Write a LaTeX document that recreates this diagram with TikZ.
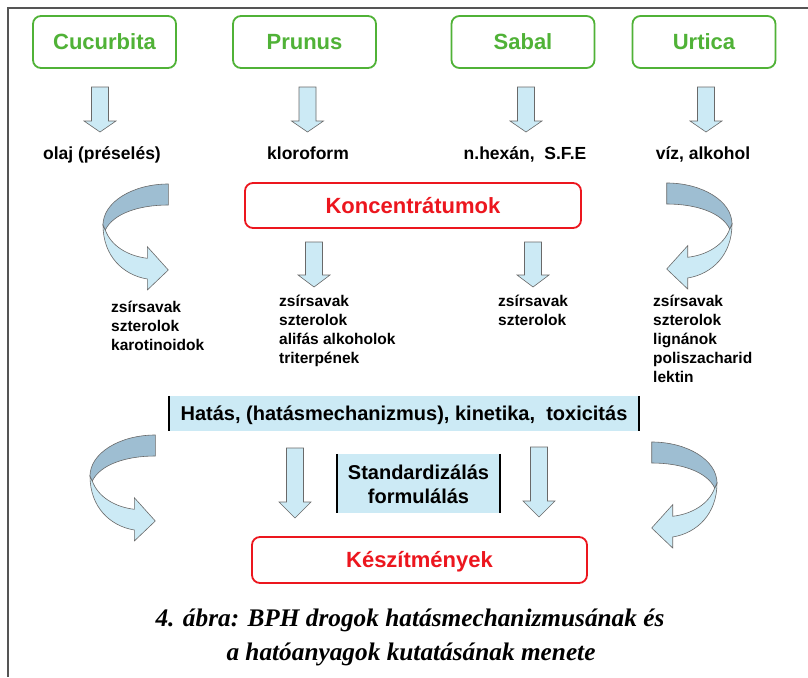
\documentclass[tikz,border=0pt]{standalone}
\usepackage{fontspec}
\setmainfont{Liberation Sans}
\newfontfamily\capfont{Liberation Serif}
\usetikzlibrary{calc}
\definecolor{grn}{RGB}{80,178,55}
\definecolor{redc}{RGB}{236,22,30}
\definecolor{lblue}{RGB}{204,234,245}
\definecolor{dblue}{RGB}{158,190,210}
\definecolor{edgec}{RGB}{105,105,105}
\definecolor{framec}{RGB}{85,85,85}
\tikzset{
  gbox/.style={draw=grn, line width=1.8pt, rounded corners=8pt, fill=white,
    minimum width=143pt, minimum height=52pt, inner sep=0pt, text=grn,
    font=\fontsize{22}{26}\selectfont\bfseries, text height=15.8pt, text depth=0pt},
  rbox/.style={draw=redc, line width=1.8pt, rounded corners=8pt, fill=white,
    inner sep=0pt, text=redc,
    font=\fontsize{22}{26}\selectfont\bfseries, text height=15.8pt, text depth=0pt},
  hbox/.style={fill=lblue, inner sep=0pt, font=\fontsize{20}{24}\selectfont\bfseries,
    text height=14.4pt, text depth=0pt},
  bar/.style={draw=black, line width=1.6pt},
  solv/.style={anchor=base, inner sep=0pt, font=\fontsize{17.5}{21}\selectfont\bfseries},
  item/.style={anchor=base west, inner sep=0pt, font=\fontsize{15.5}{19}\selectfont\bfseries},
  stdtxt/.style={anchor=base, inner sep=0pt, font=\fontsize{20}{24}\selectfont\bfseries},
  captxt/.style={anchor=base, inner sep=0pt, font=\capfont\fontsize{25.3}{30}\selectfont\bfseries\itshape},
  barrow/.style={draw=edgec, line width=0.6pt, fill=lblue, line join=miter},
  ribbon/.pic={
    \draw[barrow] (0,41) .. controls (0,72) and (20,91) .. (44.3,95)
      -- (44.3,106) -- (65.3,86) -- (44.3,62.7) -- (44.3,74.3)
      .. controls (25,72) and (8,62) .. (2.3,46) -- cycle;
    \draw[barrow, fill=dblue] (65.3,0) .. controls (30,0) and (0,18) .. (0,41)
      -- (2.3,46) .. controls (10,30) and (35,21) .. (65.3,21) -- cycle;
  }
}
\newcommand\blockarrow[4]{% center x, top y, tip y, head length
  \draw[barrow] ({#1-8.5},#2) -- ({#1+8.5},#2) -- ({#1+8.5},{#3-#4}) -- ({#1+16},{#3-#4})
    -- (#1,#3) -- ({#1-16},{#3-#4}) -- ({#1-8.5},{#3-#4}) -- cycle;}
\begin{document}
\begin{tikzpicture}[x=1pt, y=-1pt]
  \useasboundingbox (0,0) rectangle (808,677);
  \fill[white] (0,0) rectangle (808,677);
  % frame
  \coordinate (fr1) at (808,8);
  \coordinate (fr2) at (8,8);
  \coordinate (fr3) at (8,677);
  \draw[framec, line width=1.3pt] (fr1) -- (fr2) -- (fr3);

  % plant boxes
  \node[gbox] (cuc) at (104.5,42) {Cucurbita};
  \node[gbox] (pru) at (304.5,42) {Prunus};
  \node[gbox] (sab) at (523,42) {Sabal};
  \node[gbox] (urt) at (704,42) {Urtica};

  % arrows to solvents
  \blockarrow{100}{87}{132}{11}
  \blockarrow{307.5}{87}{132}{11}
  \blockarrow{526}{87}{132}{11}
  \blockarrow{706}{87}{132}{11}

  % solvents
  \node[solv] (s1) at (102,159.5) {olaj (préselés)};
  \node[solv] (s2) at (308,159.5) {kloroform};
  \node[solv] (s3) at (525,159.5) {n.hexán,\ \ S.F.E};
  \node[solv] (s4) at (703,159.5) {víz, alkohol};

  % concentrates
  \node[rbox, minimum width=336pt, minimum height=45pt] (konc) at (413,205.5) {Koncentrátumok};

  % curved ribbons (top)
  \pic at (103,184) {ribbon};
  \pic[xscale=-1] at (732,183) {ribbon};

  % straight arrows under concentrates
  \blockarrow{314}{242}{287}{12}
  \blockarrow{533}{242}{287}{12}

  % component lists
  \foreach \t [count=\i] in {zsírsavak, szterolok, karotinoidok}
    \node[item] (a\i) at (111,{312.7+19*(\i-1)}) {\t};
  \foreach \t [count=\i] in {zsírsavak, szterolok, alifás alkoholok, triterpének}
    \node[item] (b\i) at (279,{306+19*(\i-1)}) {\t};
  \foreach \t [count=\i] in {zsírsavak, szterolok}
    \node[item] (c\i) at (498,{306+19*(\i-1)}) {\t};
  \foreach \t [count=\i] in {zsírsavak, szterolok, lignánok, poliszacharid, lektin}
    \node[item] (d\i) at (653,{306+19*(\i-1)}) {\t};

  % effect bar
  \node[hbox, minimum width=470pt, minimum height=35pt] (hat) at (404,413.5)
    {Hatás, (hatásmechanizmus), kinetika,\ \ toxicitás};
  \draw[bar] (hat.north west) -- (hat.south west);
  \draw[bar] (hat.north east) -- (hat.south east);

  % standardisation box
  \node[hbox, minimum width=163pt, minimum height=59pt] (std) at (418.5,483.5) {};
  \draw[bar] (std.north west) -- (std.south west);
  \draw[bar] (std.north east) -- (std.south east);
  \node[stdtxt] (std1) at (418.5,479.3) {Standardizálás};
  \node[stdtxt] (std2) at (418.5,503.3) {formulálás};

  % lower arrows
  \blockarrow{295}{448}{518}{16}
  \blockarrow{539}{447}{517}{16}
  \pic at (90,435) {ribbon};
  \pic[xscale=-1] at (717,442) {ribbon};

  % products
  \node[rbox, minimum width=335pt, minimum height=46pt] (kesz) at (419.5,560) {Készítmények};

  % caption
  \node[captxt] (cap1) at (410,626.7) {4. ábra: BPH drogok hatásmechanizmusának és};
  \node[captxt] (cap2) at (411,660.5) {a hatóanyagok kutatásának menete};
\end{tikzpicture}
\end{document}
